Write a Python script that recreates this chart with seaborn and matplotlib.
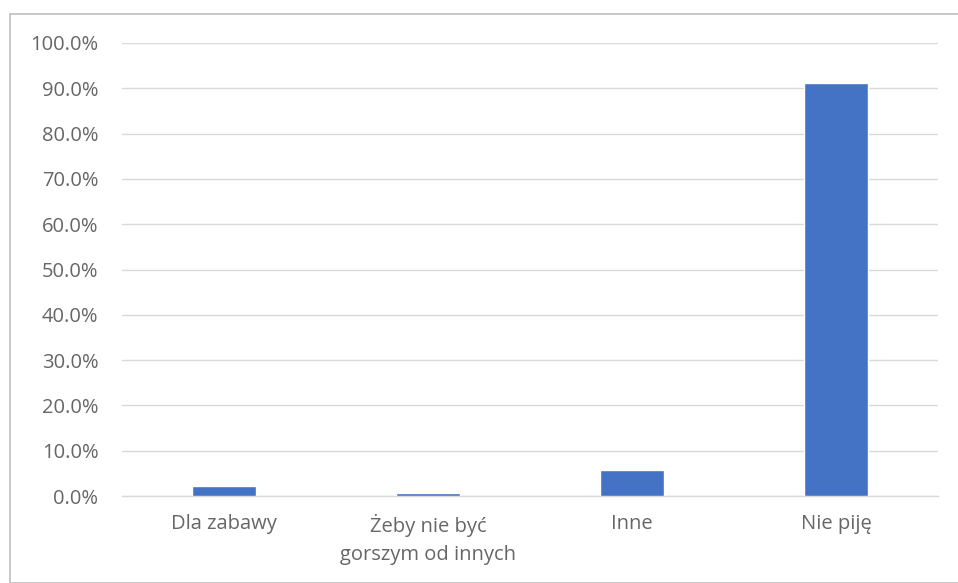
import pandas as pd
import matplotlib.pyplot as plt
import matplotlib.patches as mpatches
import seaborn as sns
from matplotlib.ticker import PercentFormatter

categories = ['Dla zabawy', 'Żeby nie być\ngorszym od innych', 'Inne', 'Nie piję']
shares = [2.2, 0.6, 5.7, 91.1]

df = pd.DataFrame({'category': categories, 'share': shares})

sns.set_theme(style='white')
plt.rcParams['font.family'] = ['Open Sans', 'DejaVu Sans']

fig = plt.figure(figsize=(9.58, 5.83), dpi=100)
ax = fig.add_axes([122 / 958, 1 - 496 / 583, 816 / 958, 453 / 583])

sns.barplot(data=df, x='category', y='share', color='#4472C4', width=0.31,
            saturation=1, ax=ax, zorder=3)

ax.set_ylim(0, 100)
ax.set_yticks(range(0, 101, 10))
ax.yaxis.set_major_formatter(PercentFormatter(decimals=1))
ax.grid(axis='y', color='#d9d9d9', linewidth=1, zorder=0)
ax.set_xlabel('')
ax.set_ylabel('')
for side in ['top', 'right', 'left']:
    ax.spines[side].set_visible(False)
ax.spines['bottom'].set_color('#d9d9d9')
ax.spines['bottom'].set_linewidth(1)
ax.tick_params(axis='y', length=0, pad=17, labelsize=14.5, labelcolor='#666666')
ax.tick_params(axis='x', length=0, pad=13, labelsize=14.5, labelcolor='#666666')
for lbl in ax.get_xticklabels():
    lbl.set_linespacing(1.5)

# outer chart frame
fig.patches.append(mpatches.Rectangle((10 / 958, 0), 1, 1 - 14 / 583, transform=fig.transFigure,
                                      fill=False, edgecolor='#bfbfbf', linewidth=1.2))

fig.savefig('out.png', dpi=100)
